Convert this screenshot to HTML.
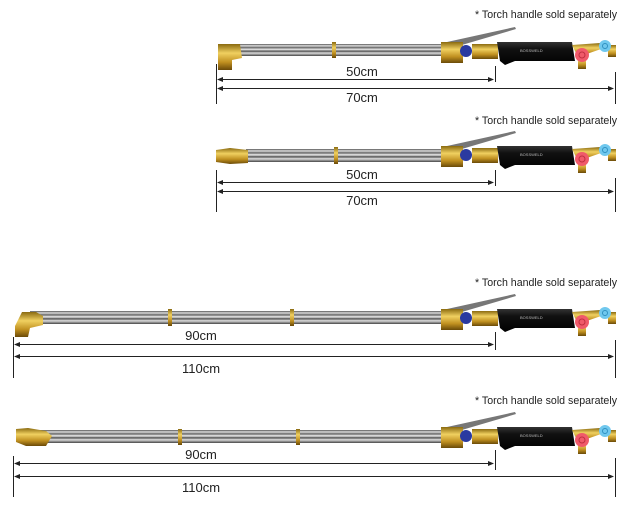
<!DOCTYPE html>
<html><head><meta charset="utf-8"><style>
html,body{margin:0;padding:0;background:#fff;width:629px;height:513px;overflow:hidden}
text{font-family:"Liberation Sans",sans-serif;}
</style></head><body>
<svg width="629" height="513" viewBox="0 0 629 513" xmlns="http://www.w3.org/2000/svg">
<defs>
<linearGradient id="tube" x1="0" y1="0" x2="0" y2="1">
<stop offset="0" stop-color="#555"/><stop offset="0.15" stop-color="#ddd"/><stop offset="0.3" stop-color="#666"/>
<stop offset="0.45" stop-color="#eee"/><stop offset="0.6" stop-color="#555"/><stop offset="0.75" stop-color="#ddd"/>
<stop offset="1" stop-color="#444"/></linearGradient>
<linearGradient id="brass" x1="0" y1="0" x2="0" y2="1">
<stop offset="0" stop-color="#8a6a10"/><stop offset="0.35" stop-color="#f0d060"/><stop offset="0.7" stop-color="#c09020"/><stop offset="1" stop-color="#6a4a08"/></linearGradient>
<linearGradient id="blk" x1="0" y1="0" x2="0" y2="1">
<stop offset="0" stop-color="#333"/><stop offset="0.3" stop-color="#111"/><stop offset="1" stop-color="#000"/></linearGradient>
<g id="handle">
<path d="M447 -9 L515 -24 L516 -22 L455 -4 Z" fill="#777"/>
<rect x="441" y="-9" width="22" height="21" fill="url(#brass)"/>
<circle cx="466" cy="0" r="6" fill="#2a3aa0"/>
<rect x="472" y="-7" width="26" height="15" fill="url(#brass)"/>
<path d="M497 -9 L572 -9 L575 10 L515 10 L505 14 L500 10 Z" fill="url(#blk)"/>
<text x="520" y="1" font-size="4" fill="#bbb">BOSSWELD</text>
<path d="M572 -6 L600 -8 L604 -3 L578 6 Z" fill="url(#brass)"/>
<rect x="578" y="4" width="8" height="14" fill="url(#brass)"/>
<circle cx="582" cy="4" r="7" fill="#f05a6a"/><circle cx="582" cy="4" r="3" fill="none" stroke="#c03040"/>
<rect x="608" y="-6" width="8" height="12" fill="url(#brass)"/>
<circle cx="605" cy="-5" r="6" fill="#70c8ee"/><circle cx="605" cy="-5" r="2.5" fill="none" stroke="#3090c0"/>
</g>
<g id="tubes1">
<rect x="0" y="0" width="1" height="13" fill="url(#tube)"/>
</g>
</defs>

<g font-size="11" fill="#222">
<text x="617" y="18" text-anchor="end" textLength="142" lengthAdjust="spacingAndGlyphs">* Torch handle sold separately</text>
<text x="617" y="124" text-anchor="end" textLength="142" lengthAdjust="spacingAndGlyphs">* Torch handle sold separately</text>
<text x="617" y="286" text-anchor="end" textLength="142" lengthAdjust="spacingAndGlyphs">* Torch handle sold separately</text>
<text x="617" y="404" text-anchor="end" textLength="142" lengthAdjust="spacingAndGlyphs">* Torch handle sold separately</text>
</g>

<!-- torch 1 -->
<rect x="230" y="44" width="215" height="12" fill="url(#tube)"/>
<rect x="332" y="42" width="4" height="16" fill="url(#brass)"/>
<path d="M218 44 L240 44 L242 58 L232 60 L232 70 L218 70 Z" fill="url(#brass)"/>
<use href="#handle" transform="translate(0,51)"/>
<!-- torch 2 -->
<rect x="246" y="149" width="199" height="13" fill="url(#tube)"/>
<rect x="334" y="147" width="4" height="17" fill="url(#brass)"/>
<path d="M216 150 L230 148 L248 150 L248 163 L230 164 L216 162 Z" fill="url(#brass)"/>
<use href="#handle" transform="translate(0,155)"/>
<!-- torch 3 -->
<rect x="30" y="311" width="415" height="13" fill="url(#tube)"/>
<rect x="168" y="309" width="4" height="17" fill="url(#brass)"/>
<rect x="290" y="309" width="4" height="17" fill="url(#brass)"/>
<path d="M22 312 L36 312 L43 316 L43 325 L30 328 L28 337 L15 337 L15 326 Z" fill="url(#brass)"/>
<use href="#handle" transform="translate(0,318)"/>
<!-- torch 4 -->
<rect x="40" y="430" width="405" height="13" fill="url(#tube)"/>
<rect x="178" y="429" width="4" height="16" fill="url(#brass)"/>
<rect x="296" y="429" width="4" height="16" fill="url(#brass)"/>
<path d="M16 429 L28 428 L46 431 L52 436 L46 446 L26 446 L16 442 Z" fill="url(#brass)"/>
<use href="#handle" transform="translate(0,436)"/>

<!-- dimensions -->
<g stroke="#222" stroke-width="1" fill="none">
<line x1="216.5" y1="64" x2="216.5" y2="104"/><line x1="495.5" y1="66" x2="495.5" y2="82"/><line x1="615.5" y1="72" x2="615.5" y2="104"/>
<line x1="218" y1="79.5" x2="493" y2="79.5"/><line x1="218" y1="88.5" x2="613" y2="88.5"/>
<line x1="216.5" y1="170" x2="216.5" y2="212"/><line x1="495.5" y1="170" x2="495.5" y2="186"/><line x1="615.5" y1="178" x2="615.5" y2="212"/>
<line x1="218" y1="182.5" x2="493" y2="182.5"/><line x1="218" y1="191.5" x2="613" y2="191.5"/>
<line x1="13.5" y1="337" x2="13.5" y2="378"/><line x1="495.5" y1="332" x2="495.5" y2="350"/><line x1="615.5" y1="340" x2="615.5" y2="378"/>
<line x1="15" y1="344.5" x2="493" y2="344.5"/><line x1="15" y1="356.5" x2="613" y2="356.5"/>
<line x1="13.5" y1="456" x2="13.5" y2="497"/><line x1="495.5" y1="450" x2="495.5" y2="470"/><line x1="615.5" y1="458" x2="615.5" y2="497"/>
<line x1="15" y1="463.5" x2="493" y2="463.5"/><line x1="15" y1="476.5" x2="613" y2="476.5"/>
</g>
<g fill="#222">
<path d="M217 79.5 l6 -2.5 v5z M494 79.5 l-6 -2.5 v5z M217 88.5 l6 -2.5 v5z M614 88.5 l-6 -2.5 v5z"/>
<path d="M217 182.5 l6 -2.5 v5z M494 182.5 l-6 -2.5 v5z M217 191.5 l6 -2.5 v5z M614 191.5 l-6 -2.5 v5z"/>
<path d="M14 344.5 l6 -2.5 v5z M494 344.5 l-6 -2.5 v5z M14 356.5 l6 -2.5 v5z M614 356.5 l-6 -2.5 v5z"/>
<path d="M14 463.5 l6 -2.5 v5z M494 463.5 l-6 -2.5 v5z M14 476.5 l6 -2.5 v5z M614 476.5 l-6 -2.5 v5z"/>
</g>
<g font-size="13" fill="#222" text-anchor="middle">
<text x="362" y="76">50cm</text><text x="362" y="102">70cm</text>
<text x="362" y="179">50cm</text><text x="362" y="205">70cm</text>
<text x="201" y="340">90cm</text><text x="201" y="373">110cm</text>
<text x="201" y="459">90cm</text><text x="201" y="492">110cm</text>
</g>
</svg>
</body></html>
